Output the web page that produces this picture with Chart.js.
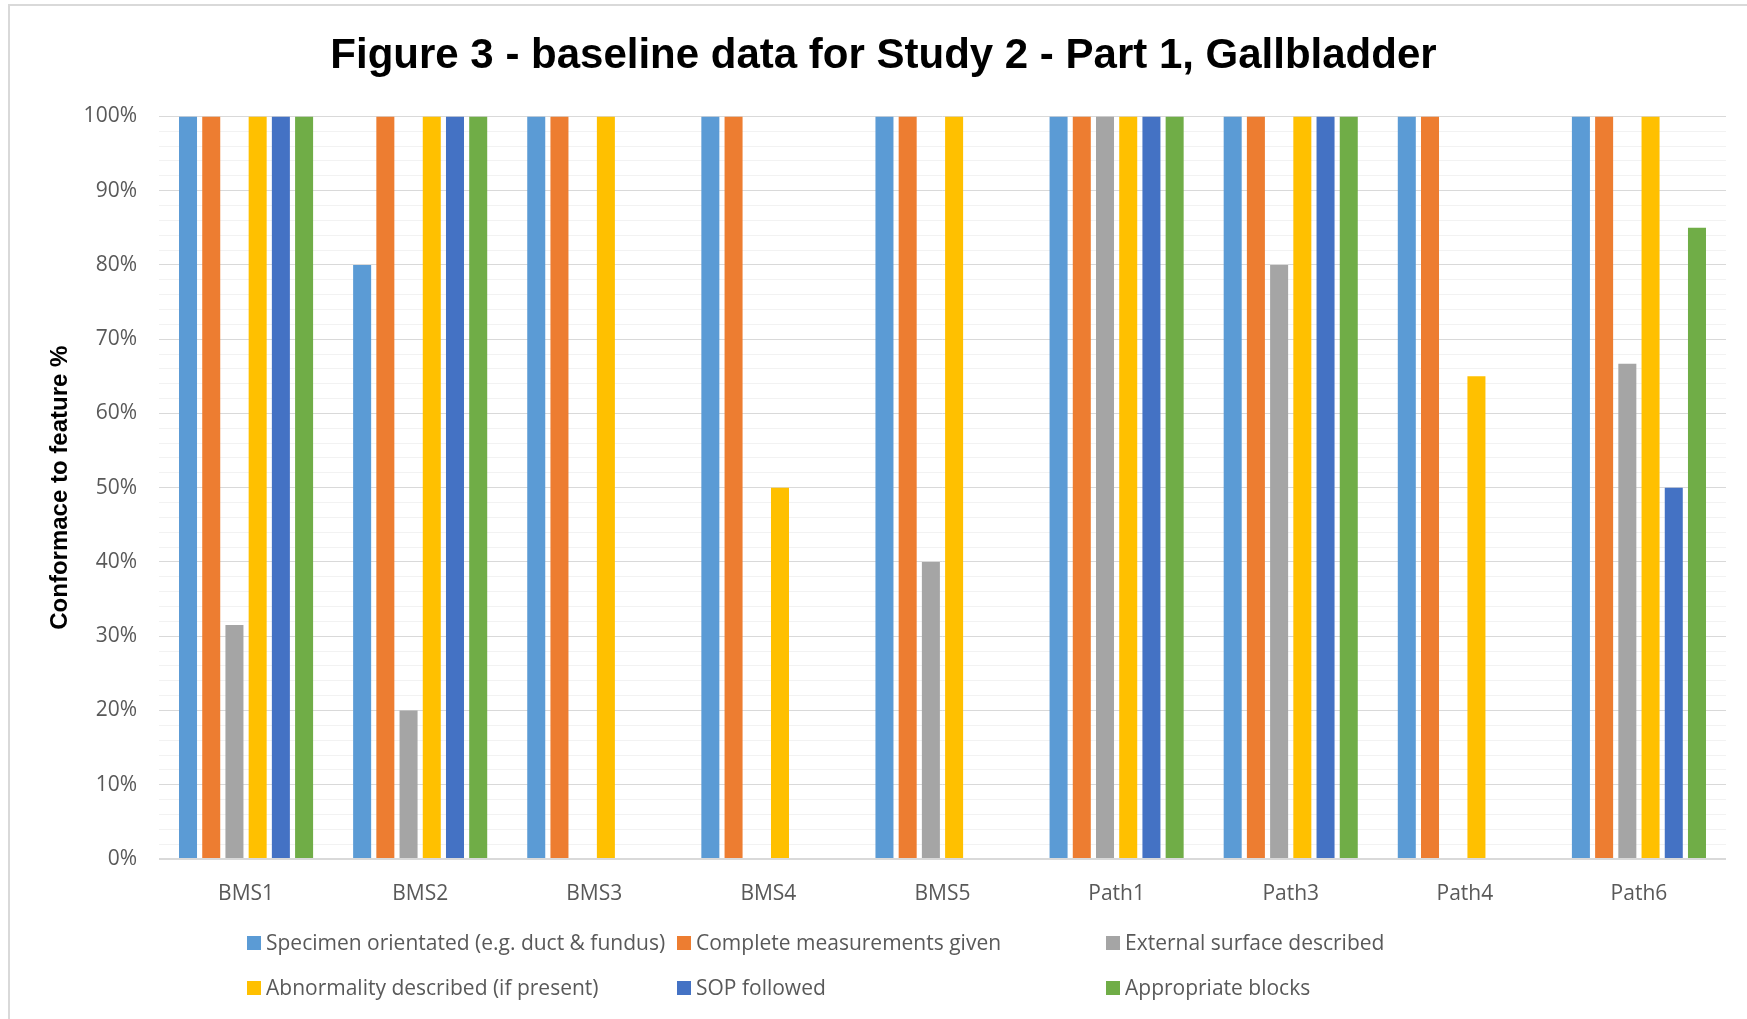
<!DOCTYPE html>
<html>
<head>
<meta charset="utf-8">
<title>Figure 3 - baseline data for Study 2 - Part 1, Gallbladder</title>
<script src="https://cdn.jsdelivr.net/npm/chart.js@4/dist/chart.umd.min.js"></script>
<style>
  html, body { margin: 0; padding: 0; background: #ffffff; }
  #wrap { width: 1747px; height: 1019px; position: relative; }
</style>
</head>
<body>
<div id="wrap"><canvas id="chart" width="1747" height="1019"></canvas></div>
<script>
// Specimens audited
const categories = ['BMS1', 'BMS2', 'BMS3', 'BMS4', 'BMS5', 'Path1', 'Path3', 'Path4', 'Path6'];

// Conformance to each feature, in percent
const specimenOrientated   = [100, 80, 100, 100, 100, 100, 100, 100, 100];
const completeMeasurements = [100, 100, 100, 100, 100, 100, 100, 100, 100];
const externalSurface      = [31.5, 20, 0, 0, 40, 100, 80, 0, 66.7];
const abnormalityDescribed = [100, 100, 100, 50, 100, 100, 100, 65, 100];
const sopFollowed          = [100, 100, 0, 0, 0, 100, 100, 0, 50];
const appropriateBlocks    = [100, 100, 0, 0, 0, 100, 100, 0, 85];

const seriesNames = [
  'Specimen orientated (e.g. duct & fundus)',
  'Complete measurements given',
  'External surface described',
  'Abnormality described (if present)',
  'SOP followed',
  'Appropriate blocks'
];
const seriesValues = [specimenOrientated, completeMeasurements, externalSurface,
                      abnormalityDescribed, sopFollowed, appropriateBlocks];
const seriesColors = ['#5B9BD5', '#ED7D31', '#A5A5A5', '#FFC000', '#4472C4', '#70AD47'];

const TICK_FONT = "'Open Sans', sans-serif";
const BOLD_FONT = "'Liberation Sans Narrow', 'Liberation Sans', sans-serif";

// Thin frame around the whole chart object
const framePlugin = {
  id: 'frame',
  beforeDraw(chart) {
    const ctx = chart.ctx;
    ctx.save();
    ctx.fillStyle = '#ffffff';
    ctx.fillRect(0, 0, chart.width, chart.height);
    ctx.strokeStyle = '#d9d9d9';
    ctx.lineWidth = 2;
    ctx.strokeRect(9, 5, chart.width + 20, chart.height + 20);
    ctx.restore();
  }
};

// Three-column legend below the axis
const gridLegendPlugin = {
  id: 'gridLegend',
  afterDraw(chart, args, opts) {
    const ctx = chart.ctx;
    ctx.save();
    ctx.font = opts.fontSize + 'px ' + TICK_FONT;
    ctx.textBaseline = 'middle';
    ctx.textAlign = 'left';
    chart.data.datasets.forEach((ds, i) => {
      const col = i % opts.columns.length;
      const row = Math.floor(i / opts.columns.length);
      const x = opts.columns[col];
      const y = opts.rows[row];
      ctx.fillStyle = ds.backgroundColor;
      ctx.fillRect(x, y - opts.box / 2, opts.box, opts.box);
      ctx.fillStyle = opts.color;
      ctx.fillText(ds.label, x + opts.box + 5, y + 1);
    });
    ctx.restore();
  }
};

const datasets = seriesNames.map((name, i) => ({
  label: name,
  data: seriesValues[i],
  backgroundColor: seriesColors[i],
  borderWidth: 0,
  categoryPercentage: 0.8,
  barPercentage: 0.776
}));

new Chart(document.getElementById('chart'), {
  type: 'bar',
  data: { labels: categories, datasets },
  plugins: [framePlugin, gridLegendPlugin],
  options: {
    responsive: false,
    animation: false,
    layout: { padding: { left: 20, right: 0, top: 0, bottom: 0 } },
    plugins: {
      legend: { display: false },
      tooltip: { enabled: false },
      title: {
        display: true,
        text: 'Figure 3 - baseline data for Study 2 - Part 1, Gallbladder',
        color: '#000000',
        font: { family: BOLD_FONT, size: 42, weight: 'bold', lineHeight: 1.2 },
        padding: { top: 31, bottom: 35 }
      },
      gridLegend: {
        columns: [247, 677, 1106],
        rows: [943, 988],
        box: 14,
        fontSize: 21,
        color: '#595959'
      }
    },
    scales: {
      x: {
        grid: { display: false },
        border: { display: false },
        ticks: {
          color: '#595959',
          font: { family: TICK_FONT, size: 21 },
          padding: 14
        },
        afterFit(scale) { scale.height = 160; }
      },
      y: {
        min: 0,
        max: 100,
        border: { display: false },
        grid: {
          drawTicks: false,
          color: c => (c.tick.value % 10 === 0 ? '#d9d9d9' : '#f2f2f2'),
          lineWidth: c => (c.tick.value === 0 ? 2 : 1)
        },
        ticks: {
          stepSize: 2,
          autoSkip: false,
          color: '#595959',
          font: { family: TICK_FONT, size: 21 },
          padding: 22,
          callback: v => (v % 10 === 0 ? v + '%' : '')
        },
        title: {
          display: true,
          text: 'Conformace to feature %',
          color: '#000000',
          font: { family: BOLD_FONT, size: 24, weight: 'bold', lineHeight: 1.2 },
          padding: { top: 26, bottom: 0 }
        },
        afterFit(scale) { scale.width = 139; }
      },
      yRight: {
        position: 'right',
        display: true,
        grid: { display: false },
        border: { display: false },
        ticks: { display: false },
        afterFit(scale) { scale.width = 21; }
      }
    }
  }
});
</script>
</body>
</html>
